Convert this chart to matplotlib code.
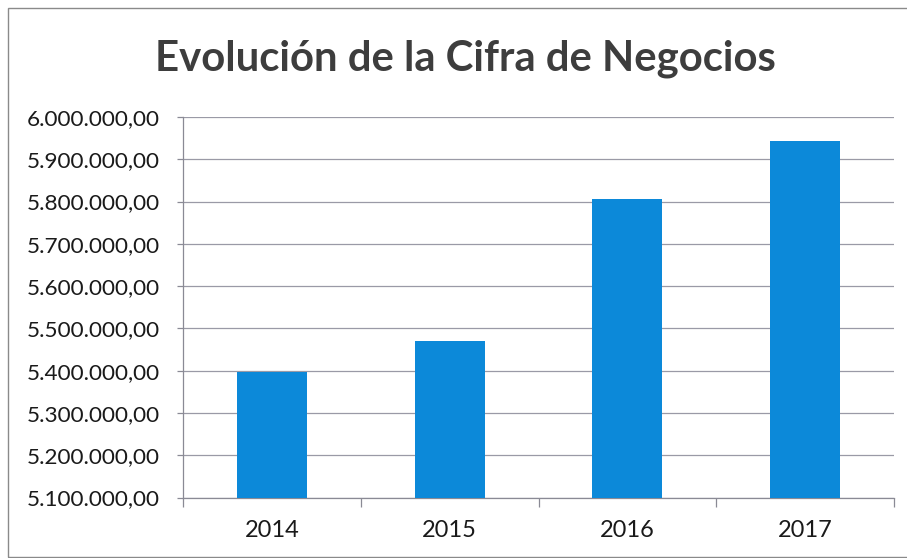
import matplotlib
matplotlib.use("Agg")
import matplotlib.pyplot as plt
from matplotlib.patches import Rectangle
from matplotlib.ticker import FuncFormatter, FixedLocator

years = ["2014", "2015", "2016", "2017"]
values = [5397000, 5469000, 5805000, 5943000]
y_ticks = [5100000, 5200000, 5300000, 5400000, 5500000,
           5600000, 5700000, 5800000, 5900000, 6000000]
title = "Evolución de la Cifra de Negocios"

W, H = 907, 558
fig = plt.figure(figsize=(W / 100, H / 100), dpi=100)
fig.patch.set_facecolor("white")

# outer chart frame
fig.add_artist(Rectangle((8 / W, 1.5 / H), 1.2, (H - 8 - 1.5) / H,
                         transform=fig.transFigure, fill=False,
                         edgecolor="#8a8a8a", linewidth=1.0))

ax = fig.add_axes([183 / W, 1 - 497.5 / H, (894 - 183) / W, (497.5 - 117) / H])

x = list(range(len(years)))
ax.bar(x, values, width=0.395, color="#0C89D9", zorder=3)

ax.set_xlim(-0.5, len(years) - 0.5)
ax.set_ylim(y_ticks[0], y_ticks[-1])

def fmt(v, pos):
    s = f"{v:,.2f}"
    return s.replace(",", "X").replace(".", ",").replace("X", ".")

ax.yaxis.set_major_locator(FixedLocator(y_ticks))
ax.yaxis.set_major_formatter(FuncFormatter(fmt))
ax.set_xticks(x)
ax.set_xticklabels(years)
ax.set_xticks([i + 0.5 for i in range(-1, len(years))], minor=True)

ax.grid(axis="y", color="#9a9aa6", linewidth=0.9, zorder=0)
for s in ["top", "right"]:
    ax.spines[s].set_visible(False)
for s in ["left", "bottom"]:
    ax.spines[s].set_color("#8a8a95")
    ax.spines[s].set_linewidth(0.9)

ax.tick_params(axis="y", which="major", length=4.5, width=0.9, color="#8a8a95",
               labelsize=16.2, labelcolor="#1a1a1a", pad=12)
ax.tick_params(axis="x", which="major", length=0, labelsize=17,
               labelcolor="#1a1a1a", pad=16)
ax.tick_params(axis="x", which="minor", length=6.5, width=0.9, color="#8a8a95")
for lab in ax.get_yticklabels() + ax.get_xticklabels():
    lab.set_family("Lato")

fig.text(465 / W, 1 - 59 / H, title, ha="center", va="center",
         fontsize=30.2, fontweight="bold", family="Lato", color="#3d3d3d")

fig.savefig("out.png", dpi=100)
